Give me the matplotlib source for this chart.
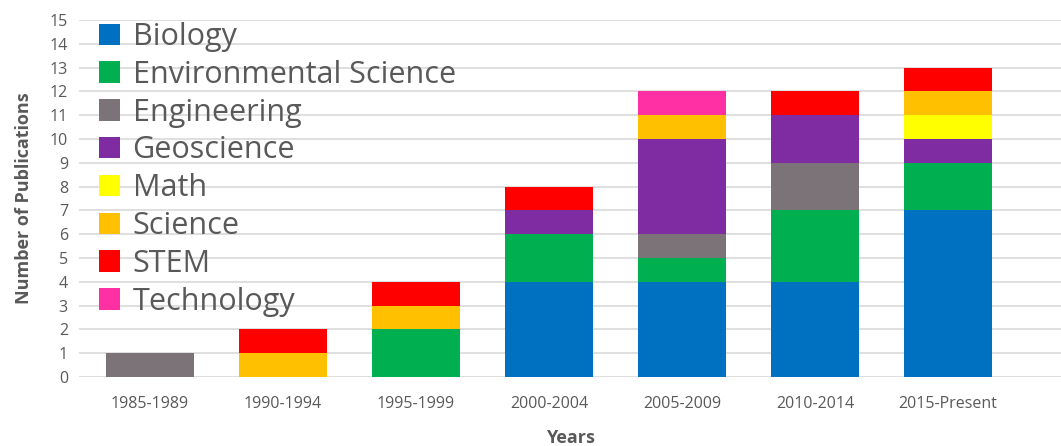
import numpy as np
import matplotlib
matplotlib.use("Agg")
import matplotlib.pyplot as plt

# data
periods = ["1985-1989", "1990-1994", "1995-1999", "2000-2004",
           "2005-2009", "2010-2014", "2015-Present"]
fields = ["Biology", "Environmental Science", "Engineering", "Geoscience",
          "Math", "Science", "STEM", "Technology"]
biology     = [0, 0, 0, 4, 4, 4, 7]
environment = [0, 0, 2, 2, 1, 3, 2]
engineering = [1, 0, 0, 0, 1, 2, 0]
geoscience  = [0, 0, 0, 1, 4, 2, 1]
math_       = [0, 0, 0, 0, 0, 0, 1]
science     = [0, 1, 1, 0, 1, 0, 1]
stem        = [0, 1, 1, 1, 0, 1, 1]
technology  = [0, 0, 0, 0, 1, 0, 0]
series = [biology, environment, engineering, geoscience,
          math_, science, stem, technology]
colors = ["#0070C0", "#00B050", "#7B7378", "#7F2CA3",
          "#FFFF00", "#FFC000", "#FF0000", "#FF2FA4"]

grey = "#595959"
plt.rcParams['font.family'] = ['Open Sans', 'DejaVu Sans']

fig = plt.figure(figsize=(10.61, 4.46), dpi=100)
ax = fig.add_axes([79/1061, 69/446, 982/1061, 357/446])

x = np.arange(len(periods))
bottom = np.zeros(len(periods))
for name, vals, c in zip(fields, series, colors):
    ax.bar(x, vals, width=0.66, bottom=bottom, color=c, label=name, linewidth=0, zorder=3)
    bottom += np.array(vals)

ax.set_xlim(-0.534, 6.85)
ax.set_ylim(0, 15)
ax.set_yticks(range(0, 16))
ax.set_xticks(x)
ax.set_xticklabels(periods)
ax.grid(axis='y', color='#d9d9d9', linewidth=1.2, zorder=0)
ax.set_axisbelow(True)
for s in ax.spines.values():
    s.set_visible(False)
ax.tick_params(length=0, colors=grey, labelsize=11.5)
ax.tick_params(axis='y', pad=8)
ax.tick_params(axis='x', pad=14)

ax.set_ylabel("Number of Publications", fontsize=13, fontweight='bold', color=grey, labelpad=12)
ax.set_xlabel("Years", fontsize=13, fontweight='bold', color=grey, labelpad=12)

leg = ax.legend(loc='upper left', bbox_to_anchor=(99/1061, 1 - 22/446),
                bbox_transform=fig.transFigure, frameon=False, fontsize=22,
                handlelength=0.7, handleheight=0.7, handletextpad=0.4,
                labelspacing=0.255, borderpad=0, borderaxespad=0)
for t in leg.get_texts():
    t.set_color(grey)

fig.savefig("out.png", dpi=100)
